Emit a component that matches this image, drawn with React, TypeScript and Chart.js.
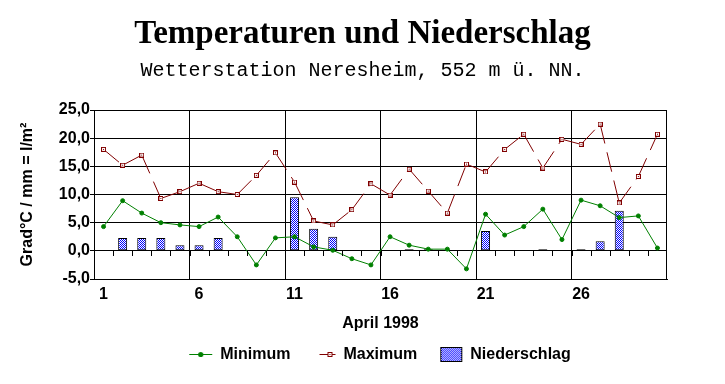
import React, { useEffect, useRef } from 'react';
import { Chart, registerables } from 'chart.js';

Chart.register(...registerables);

// ---- data ----
const days = ['1', '2', '3', '4', '5', '6', '7', '8', '9', '10', '11', '12', '13', '14', '15',
  '16', '17', '18', '19', '20', '21', '22', '23', '24', '25', '26', '27', '28', '29', '30'];
const shownDayLabels = ['1', '6', '11', '16', '21', '26'];

const minimum = [4.3, 8.9, 6.7, 5.0, 4.6, 4.3, 6.0, 2.5, -2.5, 2.3, 2.5, 0.7, 0.1, -1.4, -2.5,
  2.5, 1.0, 0.3, 0.3, -3.2, 6.5, 2.8, 4.3, 7.4, 2.0, 9.0, 8.0, 5.9, 6.2, 0.5];
const maximum = [18.0, 15.2, 17.0, 9.3, 10.5, 12.0, 10.5, 10.0, 13.4, 17.4, 12.2, 5.3, 4.6, 7.3, 11.9,
  9.9, 14.5, 10.6, 6.7, 15.4, 14.0, 18.0, 20.7, 14.7, 19.8, 18.9, 22.5, 8.5, 13.2, 20.7];
const niederschlag = [0, 2.3, 2.3, 2.3, 1.0, 1.0, 2.3, 0, 0, 0, 9.5, 3.9, 2.5, 0, 0,
  0, 0.3, 0.3, 0, 0, 3.5, 0, 0, 0.3, 0, 0.3, 1.7, 7.1, 0, 0];

const yMin = -5;
const yMax = 25;
const yStep = 5;

const TITLE = 'Temperaturen und Niederschlag';
const SUBTITLE = 'Wetterstation Neresheim, 552 m ü. NN.';
const X_TITLE = 'April 1998';
const Y_TITLE = 'Grad°C / mm = l/m²';

const GREEN = '#008000';
const DARKRED = '#800000';
const BLUE = '#0000ff';
const SANS = "'Liberation Sans', Arial, sans-serif";

function makeCanvas(w: number, h: number) {
  const c = document.createElement('canvas');
  c.width = w;
  c.height = h;
  return c;
}

function makePatternTile() {
  const c = makeCanvas(2, 2);
  const g = c.getContext('2d')!;
  g.fillStyle = '#ffffff';
  g.fillRect(0, 0, 2, 2);
  g.fillStyle = BLUE;
  g.fillRect(0, 0, 1, 1);
  g.fillRect(1, 1, 1, 1);
  return c;
}

function makeMaxMarker() {
  const c = makeCanvas(5, 5);
  const g = c.getContext('2d')!;
  g.fillStyle = '#ffffff';
  g.fillRect(0, 0, 5, 5);
  g.strokeStyle = DARKRED;
  g.lineWidth = 1;
  g.strokeRect(0.5, 0.5, 4, 4);
  g.fillStyle = DARKRED;
  g.fillRect(2, 2, 1, 1);
  return c;
}

const zeroTicksPlugin = {
  id: 'zeroTicks',
  afterDatasetsDraw(chart: any) {
    const xs = chart.scales.x;
    const ys = chart.scales.y;
    const ctx = chart.ctx;
    const y0 = Math.round(ys.getPixelForValue(0));
    ctx.save();
    ctx.strokeStyle = '#000';
    ctx.lineWidth = 1;
    ctx.beginPath();
    for (let i = 1; i < days.length; i++) {
      const px = Math.round((xs.getPixelForValue(i - 1) + xs.getPixelForValue(i)) / 2) + 0.5;
      ctx.moveTo(px, y0);
      ctx.lineTo(px, y0 + 5);
    }
    ctx.stroke();
    ctx.restore();
  },
};

export default function App() {
  const ref = useRef<HTMLCanvasElement>(null);

  useEffect(() => {
    const canvas = ref.current!;
    const ctx = canvas.getContext('2d')!;
    const tile = makePatternTile();
    const pattern = ctx.createPattern(tile, 'repeat')!;
    const maxMarker = makeMaxMarker();

    // legend icons: canvas is centred on the legend box centre (box width B = 22),
    // icon drawn so that its right edge meets the box's right edge.
    const W = 46;
    const minIcon = makeCanvas(W, 10);
    {
      const g = minIcon.getContext('2d')!;
      g.fillStyle = GREEN;
      g.fillRect(11, 4, 23, 1);
      g.beginPath();
      g.arc(22.5, 4.5, 2.6, 0, Math.PI * 2);
      g.fill();
    }
    const maxIcon = makeCanvas(W, 10);
    {
      const g = maxIcon.getContext('2d')!;
      g.fillStyle = DARKRED;
      g.fillRect(18, 4, 16, 1);
      g.fillStyle = '#fff';
      g.fillRect(26, 2, 5, 5);
      g.strokeStyle = DARKRED;
      g.lineWidth = 1;
      g.strokeRect(26.5, 2.5, 4, 4);
      g.fillStyle = DARKRED;
      g.fillRect(28, 4, 1, 1);
    }
    const nsIcon = makeCanvas(W, 16);
    {
      const g = nsIcon.getContext('2d')!;
      g.fillStyle = g.createPattern(tile, 'repeat')!;
      g.fillRect(12, 0, 22, 15);
      g.strokeStyle = '#000';
      g.lineWidth = 1;
      g.strokeRect(12.5, 0.5, 21, 14);
    }
    const icons = [minIcon, maxIcon, nsIcon];

    const chart = new Chart(ctx, {
      type: 'bar',
      data: {
        labels: days,
        datasets: [
          {
            type: 'line',
            label: 'Minimum',
            data: minimum,
            borderColor: GREEN,
            backgroundColor: GREEN,
            borderWidth: 1,
            pointRadius: 2,
            pointBorderWidth: 1,
            pointBackgroundColor: GREEN,
            pointBorderColor: GREEN,
            tension: 0,
            fill: false,
            order: 1,
          } as any,
          {
            type: 'line',
            label: 'Maximum',
            data: maximum,
            borderColor: DARKRED,
            backgroundColor: DARKRED,
            borderWidth: 1,
            pointStyle: maxMarker,
            pointRadius: 3,
            tension: 0,
            fill: false,
            order: 1,
            segment: {
              borderDash: () => [20, 9],
              borderDashOffset: (c: any) => (c.p0DataIndex % 2) * 0.001,
            },
          } as any,
          {
            type: 'bar',
            label: 'Niederschlag',
            data: niederschlag,
            backgroundColor: pattern,
            borderColor: '#000',
            borderWidth: 1,
            borderSkipped: false,
            inflateAmount: 0,
            barThickness: 9,
            order: 2,
          } as any,
        ],
      },
      options: {
        responsive: false,
        animation: false,
        events: [],
        layout: { padding: { top: 15, right: 0, bottom: 11, left: 0 } },
        scales: {
          x: {
            type: 'category',
            offset: true,
            afterFit: (s: any) => { s.height = 45; },
            grid: {
              offset: true,
              drawTicks: false,
              lineWidth: 1,
              color: (c: any) => (c.index === undefined || c.index % 5 === 0 ? '#000' : 'rgba(0,0,0,0)'),
            },
            border: { display: true, color: '#000', width: 1 },
            ticks: {
              autoSkip: false,
              maxRotation: 0,
              minRotation: 0,
              padding: 6,
              color: '#000',
              font: { family: SANS, size: 16, weight: 'bold' },
              callback: (_v: any, i: number) => (shownDayLabels.includes(days[i]) ? days[i] : ''),
            },
            title: {
              display: true,
              text: X_TITLE,
              color: '#000',
              font: { family: SANS, size: 16, weight: 'bold' },
              padding: { top: 0, bottom: -9 },
            },
          },
          y: {
            min: yMin,
            max: yMax,
            afterFit: (s: any) => { s.width = 94; },
            grid: { color: '#000', tickColor: '#000', tickLength: 4, drawTicks: true, lineWidth: 1 },
            border: { display: true, color: '#000', width: 1 },
            ticks: {
              stepSize: yStep,
              padding: 0,
              color: '#000',
              font: { family: SANS, size: 16, weight: 'bold' },
              callback: (v: any) => Number(v).toFixed(1).replace('.', ','),
            },
            title: {
              display: true,
              text: Y_TITLE,
              color: '#000',
              font: { family: SANS, size: 16, weight: 'bold' },
              padding: { top: 18, bottom: 0 },
            },
          },
          yRightSpace: {
            type: 'linear',
            position: 'right',
            min: 0,
            max: 1,
            afterFit: (s: any) => { s.width = 58; },
            grid: { display: false, drawTicks: false },
            border: { display: false },
            ticks: { display: false },
          },
        },
        plugins: {
          tooltip: { enabled: false },
          title: {
            display: true,
            text: TITLE,
            color: '#000',
            font: { family: "'Liberation Serif', 'Times New Roman', serif", size: 33, weight: 'bold', lineHeight: 1.2 },
            padding: { top: 0, bottom: 0 },
          },
          subtitle: {
            display: true,
            text: SUBTITLE,
            color: '#000',
            font: { family: "'Liberation Mono', 'Courier New', monospace", size: 20, weight: 'normal', lineHeight: 1.2 },
            padding: { top: 4.4, bottom: 27 },
          },
          legend: {
            display: true,
            position: 'bottom',
            fullSize: false,
            labels: {
              usePointStyle: true,
              pointStyleWidth: 22,
              boxHeight: 16,
              padding: 23,
              color: '#000',
              font: { family: SANS, size: 16, weight: 'bold' },
              generateLabels: (ch: any) => {
                const items = (Chart.defaults as any).plugins.legend.labels.generateLabels(ch);
                return items.map((it: any) => ({
                  ...it,
                  pointStyle: icons[it.datasetIndex],
                  lineWidth: 0,
                  strokeStyle: 'rgba(0,0,0,0)',
                  fontColor: '#000',
                }));
              },
            },
          },
        },
      } as any,
      plugins: [zeroTicksPlugin],
    });

    return () => chart.destroy();
  }, []);

  return (
    <div style={{ position: 'absolute', left: 0, top: 0, width: 725, height: 384, background: '#fff' }}>
      <canvas ref={ref} width={725} height={384} style={{ display: 'block' }} />
    </div>
  );
}
